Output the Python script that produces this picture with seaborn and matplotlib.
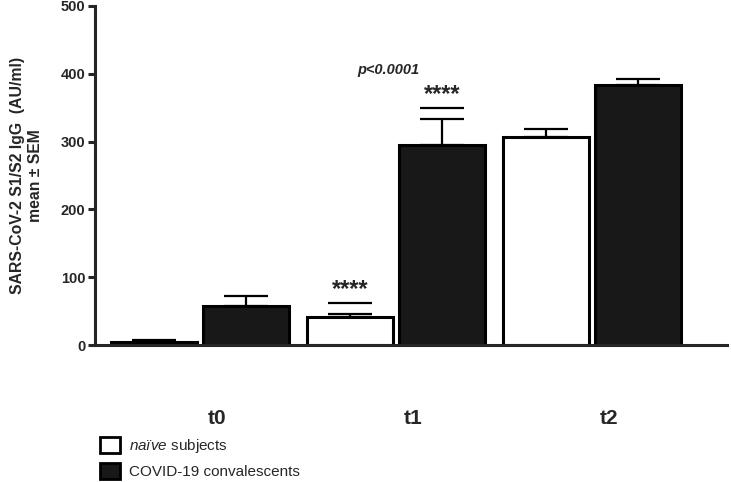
import numpy as np
import pandas as pd
import matplotlib
matplotlib.use("Agg")
import matplotlib.pyplot as plt
import matplotlib.transforms as mtransforms
from matplotlib.patches import Patch
import seaborn as sns

# data
timepoints = ["t0", "t1", "t2"]
naive_mean = [5, 42, 307]
naive_sem = [2, 4, 11]
covid_mean = [57, 295, 383]
covid_sem = [15, 39, 10]
groups = ["naive", "covid"]
stars = ["", "****", ""]        # naive annotation per timepoint
stars_covid = ["", "****", ""]  # covid annotation per timepoint

sns.set_style("ticks")
plt.rcParams['font.family'] = ['Liberation Sans', 'DejaVu Sans']
plt.rcParams['mathtext.fontset'] = 'custom'
plt.rcParams['mathtext.it'] = 'Liberation Sans:italic'
plt.rcParams['mathtext.rm'] = 'Liberation Sans'

df = pd.DataFrame({
    "time": timepoints * 2,
    "group": ["naive"] * 3 + ["covid"] * 3,
    "value": naive_mean + covid_mean,
    "err": naive_sem + covid_sem,
})

fig = plt.figure(figsize=(7.31, 4.82), dpi=100)
ax = fig.add_axes([0.130, 0.284, 0.8645, 0.7036])

sns.barplot(data=df, x="time", y="value", hue="group", hue_order=groups,
            palette={"naive": "white", "covid": "#181818"}, edgecolor="black",
            linewidth=2.2, errorbar=None, width=0.94, gap=0.06, ax=ax, legend=False)

# error bars (upper only) on top of each bar
bars = ax.patches
centers = {}
for i, g in enumerate(groups):
    for j, t in enumerate(timepoints):
        p = bars[i * 3 + j]
        x = p.get_x() + p.get_width() / 2
        row = df[(df.group == g) & (df.time == t)].iloc[0]
        centers[(g, t)] = x
        ax.errorbar(x, row["value"], yerr=[[0], [row["err"]]], fmt="none",
                    ecolor="black", elinewidth=1.6, capsize=16, capthick=1.6, zorder=1)

# significance marks
for g, lab in zip(groups, [stars, stars_covid]):
    for j, t in enumerate(timepoints):
        if not lab[j]:
            continue
        row = df[(df.group == g) & (df.time == t)].iloc[0]
        x = centers[(g, t)]
        ytop = row["value"] + row["err"] + 16
        ax.hlines(ytop, x - 0.112, x + 0.112, color="black", lw=1.6)
        ax.text(x, ytop + 3, lab[j], ha="center", va="bottom",
                fontsize=17, fontweight="bold")

ax.text(0.96, 405, "p<0.0001", ha="center", va="center", fontsize=10.5,
        fontweight="bold", style="italic")

ax.set_xlim(-0.536, 2.69)
ax.set_ylim(0, 500)
ax.set_yticks([0, 100, 200, 300, 400, 500])
ax.set_xlabel("")
ax.set_ylabel("SARS-CoV-2 S1/S2 IgG  (AU/ml)\nmean ± SEM", fontsize=11.3,
              fontweight="bold", labelpad=13)
for s in ["top", "right"]:
    ax.spines[s].set_visible(False)
for s in ["left", "bottom"]:
    ax.spines[s].set_linewidth(2.2)
ax.tick_params(axis="y", width=2.2, length=5, labelsize=10.5, pad=2)
ax.tick_params(axis="x", length=0, labelsize=15, pad=46)
for lbl in ax.get_yticklabels():
    lbl.set_fontweight("bold")
offset = mtransforms.ScaledTranslation(0.17, 0, fig.dpi_scale_trans)
for lbl in ax.get_xticklabels():
    lbl.set_fontweight("bold")
    lbl.set_transform(lbl.get_transform() + offset)

handles = [Patch(facecolor="white", edgecolor="black", linewidth=2),
           Patch(facecolor="#181818", edgecolor="black", linewidth=2)]
labels = [r"$\it{naïve}$ subjects", "COVID-19 convalescents"]
fig.legend(handles, labels, loc="upper left", bbox_to_anchor=(0.128, 0.107),
           frameon=False, fontsize=11, handlelength=1.3, handleheight=1.3,
           handletextpad=0.6, labelspacing=0.5, borderaxespad=0)

fig.savefig("out.png", dpi=100)
